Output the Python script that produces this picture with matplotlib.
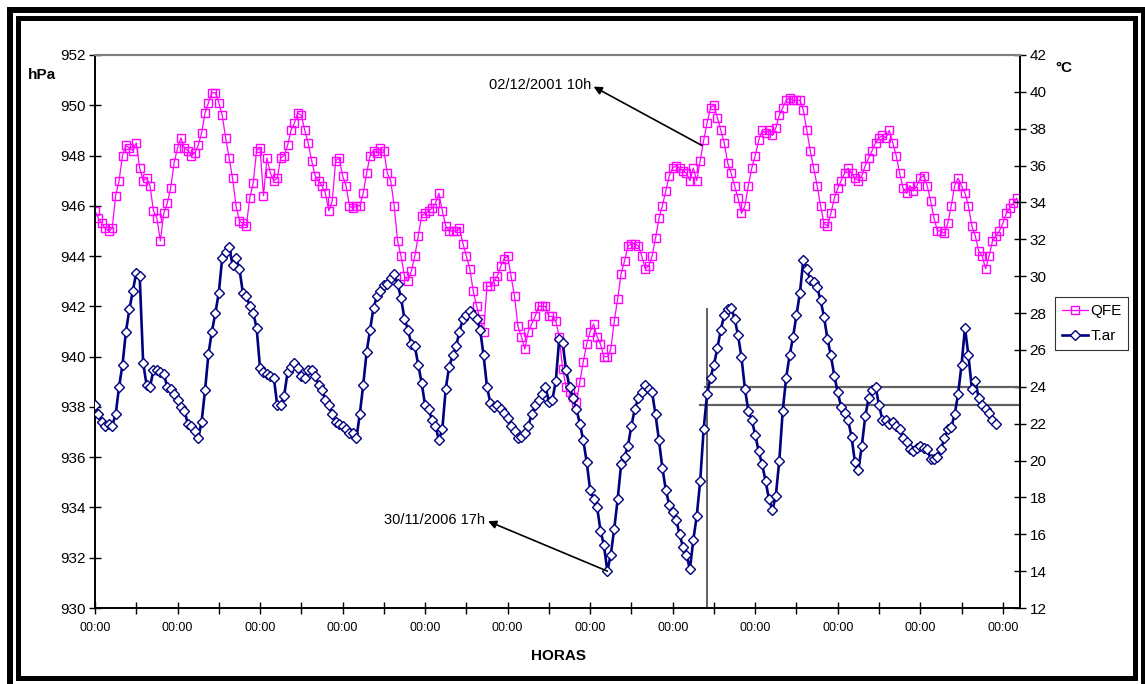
import numpy as np
import matplotlib.pyplot as plt
from matplotlib.lines import Line2D
from matplotlib.patches import Rectangle

plt.rcParams['font.family'] = ['Liberation Sans', 'DejaVu Sans']

# hourly readings, starting 00:00
qfe = [
    945.8, 945.5, 945.3, 945.1, 945.0, 945.1, 946.4, 947.0, 948.0, 948.4, 948.3, 948.2,
    948.5, 947.5, 947.0, 947.1, 946.8, 945.8, 945.5, 944.6, 945.7, 946.1, 946.7, 947.7,
    948.3, 948.7, 948.3, 948.2, 948.0, 948.1, 948.4, 948.9, 949.7, 950.1, 950.5, 950.5,
    950.1, 949.6, 948.7, 947.9, 947.1, 946.0, 945.4, 945.3, 945.2, 946.3, 946.9, 948.2,
    948.3, 946.4, 947.9, 947.3, 947.0, 947.1, 947.9, 948.0, 948.4, 949.0, 949.3, 949.7,
    949.6, 949.0, 948.5, 947.8, 947.2, 947.0, 946.8, 946.5, 945.8, 946.2, 947.8, 947.9,
    947.2, 946.8, 946.0, 945.9, 946.0, 946.0, 946.5, 947.3, 948.0, 948.2, 948.1, 948.3,
    948.2, 947.3, 947.0, 946.0, 944.6, 944.0, 943.2, 943.0, 943.4, 944.0, 944.8, 945.6,
    945.7, 945.8, 945.9, 946.1, 946.5, 945.8, 945.2, 945.0, 945.0, 945.0, 945.1, 944.5,
    944.0, 943.5, 942.6, 942.0, 941.5, 941.0, 942.8, 942.8, 943.0, 943.2, 943.6, 943.9,
    944.0, 943.2, 942.4, 941.2, 940.8, 940.3, 941.0, 941.3, 941.6, 942.0, 942.0, 942.0,
    941.6, 941.6, 941.4, 940.8, 939.5, 938.8, 938.6, 938.4, 938.2, 939.0, 939.8, 940.5,
    941.0, 941.3, 940.8, 940.5, 940.0, 940.0, 940.3, 941.4, 942.3, 943.3, 943.8, 944.4,
    944.5, 944.5, 944.4, 944.0, 943.5, 943.6, 944.0, 944.7, 945.5, 946.0, 946.6, 947.2,
    947.5, 947.6, 947.5, 947.4, 947.3, 947.0, 947.5, 947.0, 947.8, 948.6, 949.3, 949.9,
    950.0, 949.5, 949.0, 948.5, 947.7, 947.3, 946.8, 946.3, 945.7, 946.0, 946.8, 947.5,
    948.0, 948.6, 949.0, 948.9, 949.0, 948.8, 949.1, 949.6, 949.9, 950.2, 950.3, 950.2,
    950.2, 950.2, 949.8, 949.0, 948.2, 947.5, 946.8, 946.0, 945.3, 945.2, 945.7, 946.3,
    946.7, 947.0, 947.3, 947.5, 947.3, 947.1, 947.0, 947.2, 947.6, 947.9, 948.2, 948.5,
    948.7, 948.8, 948.7, 949.0, 948.5, 948.0, 947.3, 946.7, 946.5, 946.8, 946.6, 946.8,
    947.1, 947.2, 946.8, 946.2, 945.5, 945.0, 945.0, 944.9, 945.3, 946.0, 946.8, 947.1,
    946.8, 946.5, 946.0, 945.2, 944.8, 944.2, 944.0, 943.5, 944.0, 944.6, 944.8, 945.0,
    945.3, 945.7, 945.9, 946.1, 946.3,
]

t_ar = [
    23.0, 22.5, 22.1, 21.9, 22.0, 21.9, 22.5, 24.0, 25.2, 27.0, 28.2, 29.2,
    30.2, 30.0, 25.3, 24.1, 24.0, 24.9, 24.9, 24.8, 24.7, 24.0, 23.9, 23.6,
    23.3, 22.9, 22.7, 22.0, 21.9, 21.6, 21.2, 22.1, 23.8, 25.8, 27.0, 28.0,
    29.1, 31.0, 31.3, 31.6, 30.6, 31.0, 30.4, 29.1, 28.9, 28.4, 28.0, 27.2,
    25.0, 24.8, 24.7, 24.6, 24.5, 23.0, 23.0, 23.5, 24.8, 25.1, 25.3, 25.0,
    24.6, 24.5, 24.9, 24.9, 24.6, 24.1, 23.8, 23.3, 23.0, 22.5, 22.1, 22.0,
    21.9, 21.7, 21.5, 21.5, 21.2, 22.5, 24.1, 25.9, 27.1, 28.3, 28.9, 29.2,
    29.5, 29.6, 29.9, 30.1, 29.6, 28.8, 27.7, 27.1, 26.3, 26.2, 25.2, 24.2,
    23.0, 22.8, 22.2, 21.9, 21.1, 21.7, 23.9, 25.1, 25.7, 26.2, 27.0, 27.7,
    27.9, 28.1, 27.9, 27.7, 27.1, 25.7, 24.0, 23.1, 22.9, 23.0, 22.8, 22.6,
    22.3, 21.9, 21.6, 21.2, 21.3, 21.5, 21.9, 22.5, 23.0, 23.3, 23.6, 24.0,
    23.2, 23.3, 24.3, 26.6, 26.4, 24.9, 24.0, 23.4, 22.8, 22.0, 21.1, 19.9,
    18.4, 17.9, 17.5, 16.2, 15.4, 14.0, 14.9, 16.3, 17.9, 19.8, 20.2, 20.8,
    21.9, 22.8, 23.4, 23.7, 24.1, 23.9, 23.7, 22.5, 21.1, 19.6, 18.4, 17.6,
    17.2, 16.8, 16.0, 15.3, 14.9, 14.1, 15.7, 17.0, 18.9, 21.7, 23.6, 24.5,
    25.2, 26.1, 27.1, 27.9, 28.2, 28.3, 27.7, 26.8, 25.6, 23.9, 22.7, 22.2,
    21.4, 20.5, 19.8, 18.9, 17.9, 17.3, 18.1, 20.0, 22.7, 24.5, 25.7, 26.7,
    27.9, 29.1, 30.9, 30.4, 29.8, 29.7, 29.4, 28.7, 27.8, 26.6, 25.7, 24.6,
    23.7, 22.9, 22.6, 22.2, 21.3, 19.9, 19.5, 20.8, 22.4, 23.4, 23.8, 24.0,
    23.0, 22.2, 22.2, 22.0, 22.1, 21.9, 21.7, 21.2, 21.0, 20.6, 20.5, 20.7,
    20.8, 20.7, 20.6, 20.1, 20.1, 20.2, 20.6, 21.2, 21.7, 21.8, 22.5, 23.6,
    25.2, 27.2, 25.7, 23.9, 24.3, 23.4, 23.0, 22.8, 22.6, 22.2, 22.0,
]

hours_qfe = np.arange(len(qfe))
hours_t = np.arange(len(t_ar))

tick_hours = np.arange(0, 265, 12)
tick_labels = ['00:00' if h % 24 == 0 else '' for h in tick_hours]

marker_hour = 178        # vertical reference line
ref_temps = [24, 23]     # horizontal reference lines (°C)

qfe_note = ('02/12/2001 10h', 176.5, 948.4)
t_note = ('30/11/2006 17h', 149, 14.0)

W, H = 1145, 684
fig = plt.figure(figsize=(W / 100, H / 100), dpi=100)
ax = fig.add_axes([95 / W, 76 / H, 925 / W, 553 / H])
ax2 = ax.twinx()

magenta = '#FF00FF'
navy = '#000080'

ax.plot(hours_qfe, qfe, color=magenta, lw=0.9, marker='s', ms=6,
        mfc='none', mec=magenta, mew=1.0, zorder=3)
ax2.plot(hours_t, t_ar, color=navy, lw=1.9, marker='D', ms=5,
         mfc='white', mec=navy, mew=1.0, zorder=3)

ax.set_xlim(0, 269)
ax.set_ylim(930, 952)
ax2.set_ylim(12, 42)
ax.set_yticks(np.arange(930, 953, 2))
ax2.set_yticks(np.arange(12, 43, 2))
ax.set_xticks(tick_hours)
ax.set_xticklabels(tick_labels)

ax.tick_params(axis='y', direction='inout', length=8, width=1, labelsize=11, pad=3)
ax2.tick_params(axis='y', direction='inout', length=8, width=1, labelsize=11, pad=3)
ax.tick_params(axis='x', direction='inout', length=8, width=1, labelsize=9, pad=6)

for a in (ax, ax2):
    a.spines['top'].set_color('#808080')
    a.spines['top'].set_linewidth(1.5)
    a.spines['left'].set_linewidth(1.2)
    a.spines['right'].set_linewidth(1.2)
    a.spines['bottom'].set_linewidth(1.2)

# reference lines
ax2.plot([marker_hour, marker_hour], [12, 28.2], color='#606060', lw=1.4, zorder=2)
ax2.plot([marker_hour - 0.5, 269], [ref_temps[0]] * 2, color='#606060', lw=1.6, zorder=2)
ax2.plot([marker_hour - 2, 269], [ref_temps[1]] * 2, color='#606060', lw=1.6, zorder=2)

# annotations
ax.annotate(qfe_note[0], xy=(qfe_note[1], qfe_note[2]), xytext=(144.2, 950.8),
            ha='right', va='center', fontsize=10.5,
            arrowprops=dict(arrowstyle='<|-', color='black', lw=1.2,
                            mutation_scale=12, shrinkA=0, shrinkB=0,
                            relpos=(1.0, 0.5)))
ax2.annotate(t_note[0], xy=(t_note[1], t_note[2]), xytext=(113.5, 16.77),
             ha='right', va='center', fontsize=10.5,
             arrowprops=dict(arrowstyle='<|-', color='black', lw=1.2,
                             mutation_scale=12, shrinkA=0, shrinkB=0,
                             relpos=(1.0, 0.5)))

fig.text(28 / W, 1 - 75 / H, 'hPa', fontsize=11, fontweight='bold', va='center')
fig.text(1055 / W, 1 - 68 / H, '°C', fontsize=11, fontweight='bold', va='center')
fig.text(558 / W, 1 - 656 / H, 'HORAS', fontsize=11, fontweight='bold',
         ha='center', va='center')

handles = [
    Line2D([], [], color=magenta, lw=0.9, marker='s', ms=6, mfc='none', mec=magenta),
    Line2D([], [], color=navy, lw=1.9, marker='D', ms=5, mfc='white', mec=navy),
]
leg = fig.legend(handles, ['QFE', 'T.ar'], loc='upper left',
                 bbox_to_anchor=(1055 / W, 1 - 297 / H), fontsize=11,
                 frameon=True, fancybox=False, edgecolor='black',
                 handlelength=1.7, handletextpad=0.15, borderpad=0.45,
                 labelspacing=0.75, borderaxespad=0)
leg.get_frame().set_linewidth(0.8)

# double border around the chart
fig.patches.append(Rectangle((10 / W, 1 - 686 / H), 1133.5 / W, 676 / H,
                             transform=fig.transFigure, fill=False,
                             ec='black', lw=4.3))
fig.patches.append(Rectangle((17.5 / W, 1 - 677.8 / H), 1117.8 / W, 660.3 / H,
                             transform=fig.transFigure, fill=False,
                             ec='black', lw=3.6))

fig.savefig('out.png', dpi=100)
